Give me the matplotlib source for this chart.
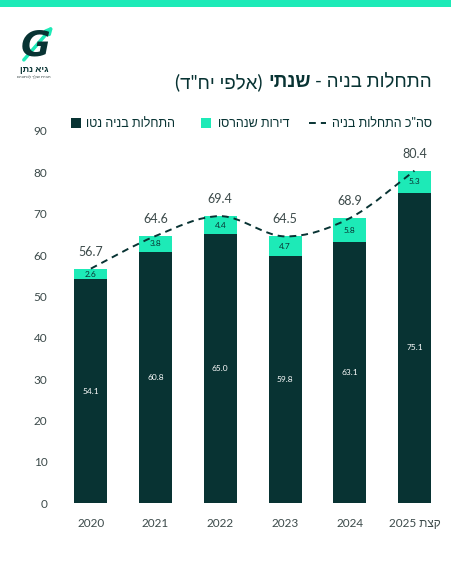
import matplotlib
matplotlib.use('Agg')
import matplotlib.pyplot as plt
from matplotlib.patches import Rectangle, PathPatch, FancyArrowPatch
from matplotlib.lines import Line2D
from matplotlib.path import Path
import numpy as np

# ---------------- data ----------------
categories = ['2020', '2021', '2022', '2023', '2024', 'קצת 2025']
net_starts = [54.1, 60.8, 65.0, 59.8, 63.1, 75.1]
demolished = [2.6, 3.8, 4.4, 4.7, 5.8, 5.3]
total_starts = [56.7, 64.6, 69.4, 64.5, 68.9, 80.4]
y_ticks = [0, 10, 20, 30, 40, 50, 60, 70, 80, 90]

title_regular_right = 'התחלות בניה -'
title_bold = 'שנתי'
title_regular_left = '(אלפי יח"ד)'
legend_net = 'התחלות בניה נטו'
legend_demol = 'דירות שנהרסו'
legend_total = 'סה"כ התחלות בניה'
logo_name = 'גיא נתן'
logo_sub = 'הבית שלך לנתונים'

# ---------------- style ----------------
DARK = '#083333'
TEAL = '#1DEAB7'
GRAY = '#3c4a4a'
plt.rcParams['font.family'] = ['Lato', 'Liberation Sans', 'DejaVu Sans']

W, H = 451, 564
fig = plt.figure(figsize=(W / 100, H / 100), dpi=100)
fig.patch.set_facecolor('white')

MIRROR = str.maketrans('()', ')(')


def is_heb(t):
    return any('\u0590' <= c <= '\u05ff' for c in t)


def rtl(s):
    out = []
    for t in reversed(s.split(' ')):
        if is_heb(t) or t in ('-',):
            t = t[::-1].translate(MIRROR)
        out.append(t)
    return ' '.join(out)


def fx(x):
    return x / W


def fy(y):
    return 1 - y / H


# top band
fig.add_artist(Rectangle((0, fy(7)), 1, 7 / H, transform=fig.transFigure,
                         color=TEAL, lw=0))

# ---------------- axes ----------------
ax = fig.add_axes([58.5 / W, (H - 503) / H, 388.3 / W, 372 / H])
x = np.arange(len(categories))
bw = 0.51
ax.bar(x, net_starts, bw, color=DARK, zorder=2)
ax.bar(x, demolished, bw, bottom=net_starts, color=TEAL, zorder=2)

# smooth dashed total line (Catmull-Rom -> cubic bezier)
pts = np.column_stack([x, total_starts]).astype(float)
verts = [pts[0]]
codes = [Path.MOVETO]
n = len(pts)
for i in range(n - 1):
    p0 = pts[i - 1] if i > 0 else pts[i]
    p1 = pts[i]
    p2 = pts[i + 1]
    p3 = pts[i + 2] if i + 2 < n else pts[i + 1]
    c1 = p1 + (p2 - p0) / 6
    c2 = p2 - (p3 - p1) / 6
    verts += [c1, c2, p2]
    codes += [Path.CURVE4] * 3
ax.add_patch(PathPatch(Path(verts, codes), fill=False, edgecolor=DARK,
                       lw=1.4, linestyle=(0, (3.5, 2.6)), zorder=3))

for i in range(n):
    ax.text(x[i], net_starts[i] / 2, f'{net_starts[i]:.1f}', ha='center',
            va='center', color='white', fontsize=6, zorder=4)
    ax.text(x[i], net_starts[i] + demolished[i] / 2, f'{demolished[i]:.1f}',
            ha='center', va='center', color=DARK, fontsize=6, zorder=4)
    ax.annotate(f'{total_starts[i]:.1f}', (x[i], total_starts[i]),
                xytext=(0, 11), textcoords='offset pixels', ha='center',
                va='bottom', color=GRAY, fontsize=9, zorder=4)

ax.set_xlim(-0.5, n - 0.5)
ax.set_ylim(0, 90)
ax.set_yticks(y_ticks)
ax.set_yticklabels([str(v) for v in y_ticks])
ax.set_xticks(x)
ax.set_xticklabels([rtl(c) for c in categories])
ax.tick_params(axis='both', length=0, colors=GRAY, labelsize=8.5)
ax.tick_params(axis='y', pad=8)
ax.tick_params(axis='x', pad=11)
for s in ax.spines.values():
    s.set_visible(False)

# ---------------- title (RTL, mixed weight) ----------------
fig.canvas.draw()
r = fig.canvas.get_renderer()
TS = 13.5
right = 432
ty = fy(82)
pieces = [(rtl(title_regular_right), 'normal'), (rtl(title_bold), 'bold'),
          (rtl(title_regular_left), 'normal')]
for txt, wt in pieces:
    t = fig.text(fx(right), ty, txt, ha='right', va='center', fontsize=TS,
                 fontweight=wt, color=DARK)
    bb = t.get_window_extent(r)
    right = bb.x0 - 5

# ---------------- legend (RTL) ----------------
LY = fy(123)
LS = 9
right = 432
t = fig.text(fx(right), LY, rtl(legend_total), ha='right', va='center',
             fontsize=LS, color=DARK)
bb = t.get_window_extent(r)
x1 = bb.x0 - 6
fig.add_artist(Line2D([fx(x1 - 17), fx(x1)], [LY, LY], transform=fig.transFigure,
                      color=DARK, lw=1.4, linestyle=(0, (3.5, 2.6))))
right = x1 - 17 - 20
t = fig.text(fx(right), LY, rtl(legend_demol), ha='right', va='center',
             fontsize=LS, color=DARK)
bb = t.get_window_extent(r)
x1 = bb.x0 - 7
fig.add_artist(Rectangle((fx(x1 - 10), LY - 5 / H), 10 / W, 10 / H,
                         transform=fig.transFigure, color=TEAL, lw=0))
right = x1 - 10 - 26
t = fig.text(fx(right), LY, rtl(legend_net), ha='right', va='center',
             fontsize=LS, color=DARK)
bb = t.get_window_extent(r)
x1 = bb.x0 - 5
fig.add_artist(Rectangle((fx(x1 - 10), LY - 5 / H), 10 / W, 10 / H,
                         transform=fig.transFigure, color=DARK, lw=0))

# ---------------- logo ----------------
fig.text(fx(35), fy(46), 'G', ha='center', va='center', fontsize=26,
         fontweight='heavy', style='italic', color=DARK,
         family=['DejaVu Sans'])
fig.add_artist(FancyArrowPatch((fx(22), fy(62)), (fx(55), fy(24)),
                               transform=fig.transFigure, color=TEAL, lw=2.5,
                               arrowstyle='-|>', mutation_scale=9))
fig.text(fx(34), fy(70), rtl(logo_name), ha='center', va='center', fontsize=6.5,
         fontweight='bold', color=DARK)
fig.text(fx(34), fy(77), rtl(logo_sub), ha='center', va='center', fontsize=3.2,
         color=GRAY)

fig.savefig('out.png', dpi=100)
